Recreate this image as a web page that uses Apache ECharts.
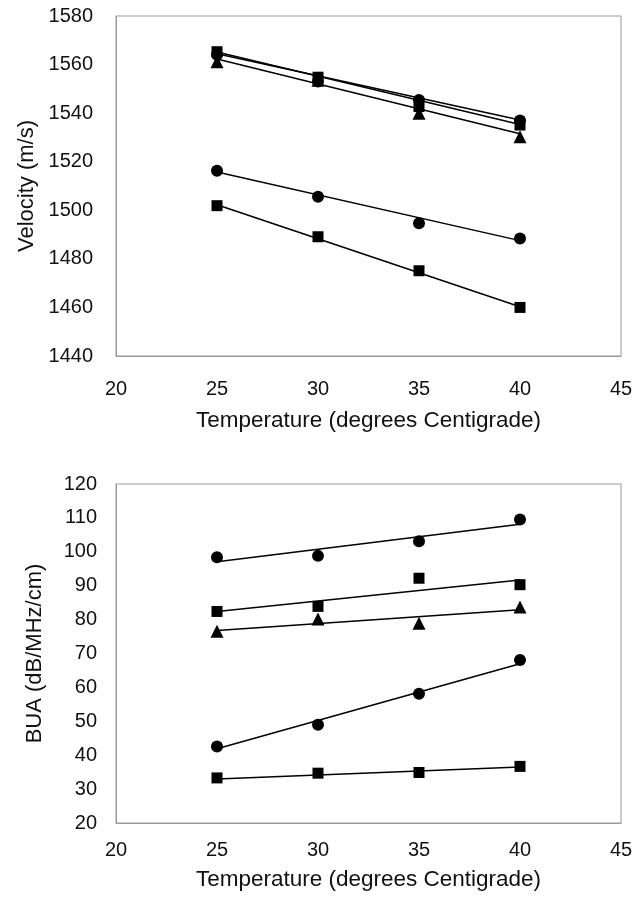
<!DOCTYPE html>
<html>
<head>
<meta charset="utf-8">
<script src="https://cdn.jsdelivr.net/npm/echarts@6/dist/echarts.min.js"></script>
<style>
html,body{margin:0;padding:0;background:#fff;}
#chart{width:642px;height:898px;}
</style>
</head>
<body>
<div id="chart"></div>
<script>
// ---- data ----
const temps = [25, 30, 35, 40];
const trendX = [25, 40];
const xTicks = [20, 25, 30, 35, 40, 45];
const velTicks = [1440, 1460, 1480, 1500, 1520, 1540, 1560, 1580];
const buaTicks = [20, 30, 40, 50, 60, 70, 80, 90, 100, 110, 120];

// Velocity (m/s)
const velCircleA = [1564, 1553, 1545.4, 1537];
const velSquareA = [1565.3, 1554.8, 1542.7, 1535.1];
const velTriangle = [1561.2, 1553.5, 1540, 1530.3];
const velCircleB = [1516.3, 1505.6, 1494.7, 1488.4];
const velSquareB = [1501.9, 1489.1, 1475.1, 1460];
// trend-line end values (at 25 and 40)
const velTrendCircleA = [1564.5, 1537.2];
const velTrendSquareA = [1565.2, 1535.3];
const velTrendTriangle = [1562.3, 1531.5];
const velTrendCircleB = [1515.8, 1487.5];
const velTrendSquareB = [1502.3, 1460.3];

// BUA (dB/MHz/cm)
const buaCircleA = [98.4, 98.8, 103.1, 109.5];
const buaSquareA = [82.4, 83.9, 92.2, 90.3];
const buaTriangle = [76.6, 80.2, 78.9, 83.7];
const buaCircleB = [42.6, 49.0, 58.1, 68.1];
const buaSquareB = [33.3, 34.7, 34.9, 36.7];
const buaTrendCircleA = [97.1, 108.1];
const buaTrendSquareA = [82.4, 91.7];
const buaTrendTriangle = [76.8, 82.9];
const buaTrendCircleB = [41.9, 67.0];
const buaTrendSquareB = [33.0, 36.5];

// ---- build chart ----
const FONT = '"Liberation Sans", Arial, sans-serif';
const pairs = (xs, ys) => xs.map((x, i) => [x, ys[i]]);

function pts(idx, ys, symbol) {
  return {
    type: 'scatter', xAxisIndex: idx, yAxisIndex: idx,
    data: pairs(temps, ys), symbol: symbol,
    symbolSize: symbol === 'triangle' ? 13 : (symbol === 'rect' ? 11 : 12),
    itemStyle: { color: '#000', opacity: 1 }, z: 3, silent: true
  };
}
function trend(idx, ys) {
  return {
    type: 'line', xAxisIndex: idx, yAxisIndex: idx,
    data: pairs(trendX, ys), showSymbol: false, symbol: 'none',
    lineStyle: { color: '#000', width: 1.5 }, z: 2, silent: true
  };
}

function xAxis(idx, labelMargin, nameGap) {
  return {
    type: 'value', gridIndex: idx, min: xTicks[0], max: xTicks[xTicks.length - 1], interval: 5,
    name: 'Temperature (degrees Centigrade)', nameLocation: 'middle', nameGap: nameGap,
    nameTextStyle: { fontFamily: FONT, fontSize: 22.5, color: '#111' },
    axisLine: { show: true, lineStyle: { color: '#999', width: 1 } },
    axisTick: { show: false },
    splitLine: { show: false },
    axisLabel: { fontFamily: FONT, fontSize: 20, color: '#111', margin: labelMargin, formatter: v => String(v) }
  };
}
function yAxis(idx, ticks, name, interval, labelMargin, nameGap) {
  return {
    type: 'value', gridIndex: idx, min: ticks[0], max: ticks[ticks.length - 1], interval: interval,
    name: name, nameLocation: 'middle', nameGap: nameGap,
    nameTextStyle: { fontFamily: FONT, fontSize: 22, color: '#111' },
    axisLine: { show: true, lineStyle: { color: '#999', width: 1 } },
    axisTick: { show: false },
    splitLine: { show: false },
    axisLabel: { fontFamily: FONT, fontSize: 20, color: '#111', margin: labelMargin, formatter: v => String(v) }
  };
}

const chart = echarts.init(document.getElementById('chart'), null, { renderer: 'canvas' });
chart.setOption({
  backgroundColor: '#fff',
  animation: false,
  grid: [
    { left: 116, right: 21, top: 16, height: 340, show: true, borderColor: '#999', borderWidth: 1, backgroundColor: 'transparent' },
    { left: 116, right: 21, top: 484, height: 339, show: true, borderColor: '#999', borderWidth: 1, backgroundColor: 'transparent' }
  ],
  xAxis: [xAxis(0, 23, 53), xAxis(1, 17, 45)],
  yAxis: [
    yAxis(0, velTicks, 'Velocity (m/s)', 20, 23, 76),
    yAxis(1, buaTicks, 'BUA (dB/MHz/cm)', 10, 19, 70)
  ],
  series: [
    trend(0, velTrendCircleA), trend(0, velTrendSquareA), trend(0, velTrendTriangle),
    trend(0, velTrendCircleB), trend(0, velTrendSquareB),
    pts(0, velCircleA, 'circle'), pts(0, velSquareA, 'rect'), pts(0, velTriangle, 'triangle'),
    pts(0, velCircleB, 'circle'), pts(0, velSquareB, 'rect'),
    trend(1, buaTrendCircleA), trend(1, buaTrendSquareA), trend(1, buaTrendTriangle),
    trend(1, buaTrendCircleB), trend(1, buaTrendSquareB),
    pts(1, buaCircleA, 'circle'), pts(1, buaSquareA, 'rect'), pts(1, buaTriangle, 'triangle'),
    pts(1, buaCircleB, 'circle'), pts(1, buaSquareB, 'rect')
  ]
});
</script>
</body>
</html>
